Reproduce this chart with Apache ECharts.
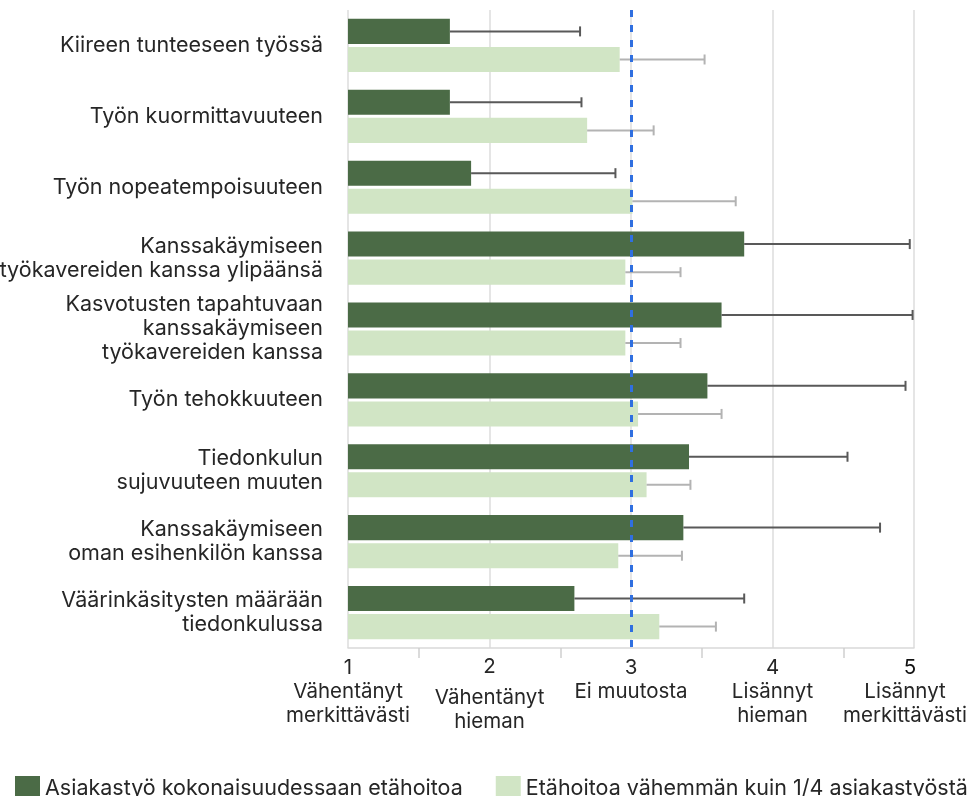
<!DOCTYPE html>
<html>
<head>
<meta charset="utf-8">
<script src="https://cdn.jsdelivr.net/npm/echarts@6/dist/echarts.min.js"></script>
<style>
  html, body { margin: 0; padding: 0; background: #fff; }
  #chart { width: 977px; height: 796px; }
</style>
</head>
<body>
<div id="chart"></div>
<script>
const categories = [
  'Kiireen tunteeseen työssä',
  'Työn kuormittavuuteen',
  'Työn nopeatempoisuuteen',
  'Kanssakäymiseen\ntyökavereiden kanssa ylipäänsä',
  'Kasvotusten tapahtuvaan\nkanssakäymiseen\ntyökavereiden kanssa',
  'Työn tehokkuuteen',
  'Tiedonkulun\nsujuvuuteen muuten',
  'Kanssakäymiseen\noman esihenkilön kanssa',
  'Väärinkäsitysten määrään\ntiedonkulussa'
]
const seriesNames = ['Asiakastyö kokonaisuudessaan etähoitoa', 'Etähoitoa vähemmän kuin 1/4 asiakastyöstä']
// keskiarvot ja virhepalkin yläpää
const remoteAll = [1.72, 1.72, 1.87, 3.80, 3.64, 3.54, 3.41, 3.37, 2.60]
const remoteAllHigh = [2.64, 2.65, 2.89, 4.97, 4.99, 4.94, 4.53, 4.76, 3.80]
const remoteLess = [2.92, 2.69, 3.01, 2.96, 2.96, 3.05, 3.11, 2.91, 3.20]
const remoteLessHigh = [3.52, 3.16, 3.74, 3.35, 3.35, 3.64, 3.42, 3.36, 3.60]
const tickNames = {
  1: 'Vähentänyt\nmerkittävästi',
  2: 'Vähentänyt\nhieman',
  3: 'Ei muutosta',
  4: 'Lisännyt\nhieman',
  5: 'Lisännyt\nmerkittävästi'
}
const noChange = 3

const font = 'Inter'
const colors = ['#4b6b46', '#d1e5c5']
const errColors = ['#595959', '#b3b3b3']
const catGap = 0.25
const barGap = 0.12

function errorSeries(idx, means, highs) {
  const side = idx === 0 ? -1 : 1
  return {
    type: 'custom',
    name: 'err' + idx,
    z: 4,
    silent: true,
    encode: { x: [1, 2], y: 0 },
    data: means.map((m, i) => [i, m, highs[i]]),
    renderItem: function (params, api) {
      const cat = api.value(0)
      const p1 = api.coord([api.value(1), cat])
      const p2 = api.coord([api.value(2), cat])
      const band = api.size([0, 1])[1]
      const barH = band * (1 - catGap) / (2 + barGap)
      const off = side * (barH + barH * barGap) / 2
      const y = p1[1] + off
      const style = { stroke: errColors[idx], lineWidth: 2 }
      return {
        type: 'group',
        children: [
          { type: 'line', shape: { x1: p1[0], y1: y, x2: p2[0], y2: y }, style: style },
          { type: 'line', shape: { x1: p2[0], y1: y - 5, x2: p2[0], y2: y + 5 }, style: style }
        ]
      }
    }
  }
}

const chart = echarts.init(document.getElementById('chart'))
chart.setOption({
  animation: false,
  textStyle: { fontFamily: font },
  grid: { left: 348, right: 63, top: 10, bottom: 148, containLabel: false, outerBoundsMode: 'none' },
  legend: {
    data: seriesNames,
    left: 10,
    top: 771,
    icon: 'rect',
    itemWidth: 25,
    itemHeight: 25,
    itemGap: 33,
    textStyle: { fontSize: 21.5, color: '#262626', fontFamily: font }
  },
  xAxis: {
    type: 'value',
    min: 1,
    max: 5,
    interval: 1,
    axisLine: { show: true, lineStyle: { color: '#d9d9d9', width: 1.5 } },
    axisTick: { show: false },
    minorTick: { show: true, splitNumber: 2, length: 10, lineStyle: { color: '#d0d0d0', width: 1.5 } },
    splitLine: { show: true, lineStyle: { color: '#dcdcdc', width: 1.5 } },
    axisLabel: {
      margin: 8,
      color: '#262626',
      formatter: function (v) {
        // viimeinen nimiö vähän vasemmalle ettei leikkaudu reunaan
        const n = v === 2 ? 'n2' : v === 5 ? 'n5' : 'n'
        const t = v === 5 ? 't5' : 't'
        return '{' + n + '|' + v + '}\n{' + t + '|' + tickNames[v].split('\n').join('}\n{' + t + '|') + '}'
      },
      rich: {
        n: { fontSize: 20.5, lineHeight: 24, color: '#262626', fontFamily: font },
        n2: { fontSize: 20.5, lineHeight: 30, verticalAlign: 'top', color: '#262626', fontFamily: font },
        n5: { fontSize: 20.5, lineHeight: 24, color: '#111', fontFamily: font, padding: [0, 8, 0, 0] },
        t: { fontSize: 20.5, lineHeight: 24, color: '#262626', fontFamily: font },
        t5: { fontSize: 20.5, lineHeight: 24, color: '#262626', fontFamily: font, padding: [0, 18, 0, 0] }
      }
    }
  },
  yAxis: {
    type: 'category',
    inverse: true,
    data: categories,
    axisLine: { show: false },
    axisTick: { show: false },
    axisLabel: { fontSize: 21.5, lineHeight: 24, color: '#262626', margin: 25, fontFamily: font }
  },
  series: [
    {
      name: seriesNames[0],
      type: 'bar',
      data: remoteAll,
      itemStyle: { color: colors[0] },
      barCategoryGap: (catGap * 100) + '%',
      barGap: (barGap * 100) + '%'
    },
    {
      name: seriesNames[1],
      type: 'bar',
      data: remoteLess,
      itemStyle: { color: colors[1] },
      barCategoryGap: (catGap * 100) + '%',
      barGap: (barGap * 100) + '%'
    },
    errorSeries(0, remoteAll, remoteAllHigh),
    Object.assign(errorSeries(1, remoteLess, remoteLessHigh), {
      markLine: {
        silent: true,
        symbol: 'none',
        label: { show: false },
        lineStyle: { color: '#2f6fe0', type: [7, 8], width: 3 },
        data: [{ xAxis: noChange }]
      }
    })
  ]
})
</script>
</body>
</html>
